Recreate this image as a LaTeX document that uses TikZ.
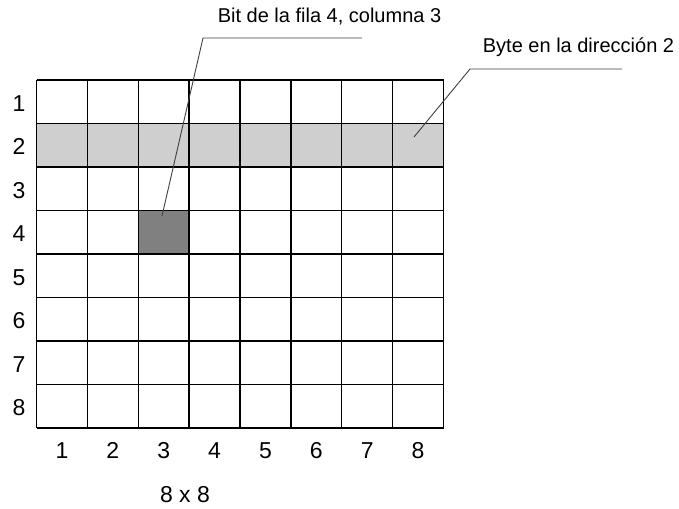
\documentclass[tikz,border=0pt]{standalone}
\usepackage{fontspec}
\setmainfont{Liberation Sans}
\definecolor{rowgray}{HTML}{CFCFCF}
\definecolor{bitgray}{HTML}{808080}
\definecolor{leadgray}{HTML}{404040}
\begin{document}
\begin{tikzpicture}[x=1pt,y=-1pt,
  gridline/.style={line width=1.3pt,black},
  leader/.style={line width=0.9pt,leadgray},
  numlbl/.style={font=\fontsize{23}{23}\selectfont,inner sep=0pt,text height=16.5pt,text depth=0pt},
  callout/.style={font=\fontsize{20}{20}\selectfont,inner sep=0pt}]
\useasboundingbox (0,0) rectangle (679,508);
\def\gl{36.5}\def\gt{80}\def\cw{50.875}\def\rh{43.5}
% shaded cells
\fill[rowgray] (\gl,\gt+\rh) rectangle (\gl+8*\cw,\gt+2*\rh);
\fill[bitgray] (\gl+2*\cw,\gt+3*\rh) rectangle (\gl+3*\cw,\gt+4*\rh);
% grid
\foreach \i in {0,...,8} {
  \draw[gridline] (\gl+\i*\cw,\gt) -- (\gl+\i*\cw,\gt+8*\rh);
  \draw[gridline] (\gl,\gt+\i*\rh) -- (\gl+8*\cw,\gt+\i*\rh);
}
% row and column numbers
\foreach \i in {1,...,8} {
  \node[numlbl] (r\i) at (19,\gt+\i*\rh-0.5*\rh+1) {\i};
  \node[numlbl] (c\i) at (\gl+\i*\cw-0.5*\cw,450) {\i};
}
\node[numlbl] (size) at (185,494) {8 x 8};
% callouts
\node[callout] (bitlbl) at (329.5,17) {Bit de la fila 4, columna 3};
\node[callout] (bytelbl) at (578.5,47) {Byte en la dirección 2};
\coordinate (bitA) at (362,38);
\coordinate (bitB) at (203,38);
\coordinate (bitC) at (162,216);
\coordinate (byteA) at (622,69);
\coordinate (byteB) at (470,69);
\coordinate (byteC) at (414,137);
\draw[leader] (bitA) -- (bitB) -- (bitC);
\draw[leader] (byteA) -- (byteB) -- (byteC);
\end{tikzpicture}
\end{document}
